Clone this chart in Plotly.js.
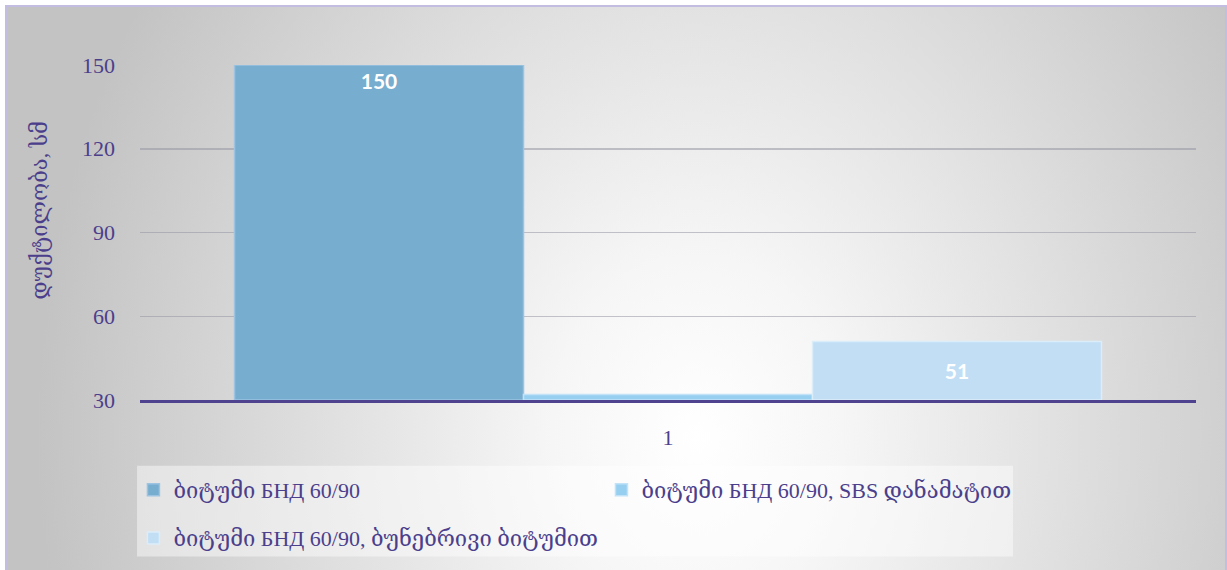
<!DOCTYPE html>
<html>
<head>
<meta charset="utf-8">
<script src="https://cdn.plot.ly/plotly-3.0.1.min.js"></script>
<style>
  html, body { margin: 0; padding: 0; background: #ffffff; width: 1227px; height: 570px; overflow: hidden; }
  #frame {
    position: absolute; left: 5px; top: 5px; width: 1218px; height: 580px;
    border: 2px solid #c4bde2;
    background: radial-gradient(ellipse 660px 820px at 690px 430px, #ffffff 0%, #f6f6f6 22%, #c3c3c3 100%);
  }
  #chart { position: absolute; left: 0; top: 0; width: 1227px; height: 570px; }
</style>
</head>
<body>
<div id="frame"></div>
<div id="chart"></div>
<script>
const categories = ['1'];
const seriesNames = [
  'ბიტუმი БНД 60/90',
  'ბიტუმი БНД 60/90, SBS დანამატით',
  'ბიტუმი БНД 60/90, ბუნებრივი ბიტუმით'
];
const seriesValues = [[150], [32], [51]];
const showLabels = [true, false, true];
const yTicks = [30, 60, 90, 120, 150];
const axisCross = 30;   // value axis crosses at 30, bars grow from there
const yTitle = 'დუქტილობა, სმ';

const colors = ['#77adcf', '#96cff0', '#c1def5'];
const lineColors = ['#9cc4e2', '#c2e3f7', '#dcedfa'];
const labelAnchors = ['end', 'middle', 'middle'];
const purple = '#4b3f8c';
const serif = '"Liberation Serif", "DejaVu Serif", serif';

const traces = seriesNames.map((name, i) => ({
  type: 'bar',
  name: name,
  x: categories,
  base: axisCross,
  y: seriesValues[i].map(v => v - axisCross),
  customdata: seriesValues[i],
  marker: { color: colors[i], line: { color: lineColors[i], width: 1.5 } },
  text: showLabels[i] ? seriesValues[i].map(String) : seriesValues[i].map(() => ''),
  textposition: 'inside',
  insidetextanchor: labelAnchors[i],
  constraintext: 'none',
  textfont: { family: 'Lato, "Open Sans", sans-serif', size: 21, color: '#ffffff', weight: 'bold' },
  legend: i < 2 ? 'legend' : 'legend2',
  hovertemplate: '%{fullData.name}: %{customdata}<extra></extra>'
}));

const layout = {
  width: 1227,
  height: 570,
  margin: { l: 140, r: 31, t: 65, b: 169 },
  paper_bgcolor: 'rgba(0,0,0,0)',
  plot_bgcolor: 'rgba(0,0,0,0)',
  barmode: 'group',
  bargap: 0.179,
  bargroupgap: 0,
  font: { family: serif, color: purple, size: 21 },
  xaxis: {
    type: 'category',
    showline: true,
    linecolor: '#4f4390',
    linewidth: 3,
    ticks: '',
    ticklabelstandoff: 16,
    tickfont: { family: serif, size: 22, color: purple },
    showgrid: false,
    zeroline: false
  },
  yaxis: {
    range: [30, 150],
    tickvals: yTicks,
    ticktext: yTicks.map(String),
    showgrid: true,
    gridcolor: 'rgba(150,150,165,0.55)',
    gridwidth: 1.5,
    zeroline: false,
    showline: false,
    ticks: '',
    ticklabelstandoff: 24,
    tickfont: { family: serif, size: 22, color: purple }
  },
  annotations: [{
    text: yTitle,
    xref: 'paper', yref: 'paper',
    x: -0.0947, y: 0.568,
    xanchor: 'center', yanchor: 'middle',
    textangle: -90,
    showarrow: false,
    font: { family: serif, size: 22, color: purple }
  }],
  legend: {
    orientation: 'h',
    x: -0.0062, xanchor: 'left',
    y: -0.265, yanchor: 'middle',
    entrywidth: 423, entrywidthmode: 'pixels',
    bgcolor: 'rgba(0,0,0,0)',
    font: { family: serif, size: 22, color: purple },
    traceorder: 'normal'
  },
  legend2: {
    orientation: 'h',
    x: -0.0062, xanchor: 'left',
    y: -0.408, yanchor: 'middle',
    bgcolor: 'rgba(0,0,0,0)',
    font: { family: serif, size: 22, color: purple }
  },
  shapes: [{
    type: 'rect', xref: 'paper', yref: 'paper', layer: 'below',
    x0: -0.0028, x1: 0.8267, y0: -0.467, y1: -0.196,
    fillcolor: 'rgba(255,255,255,0.45)', line: { width: 0 }
  }]
};

Plotly.newPlot('chart', traces, layout, { displayModeBar: false, staticPlot: true });
</script>
</body>
</html>
